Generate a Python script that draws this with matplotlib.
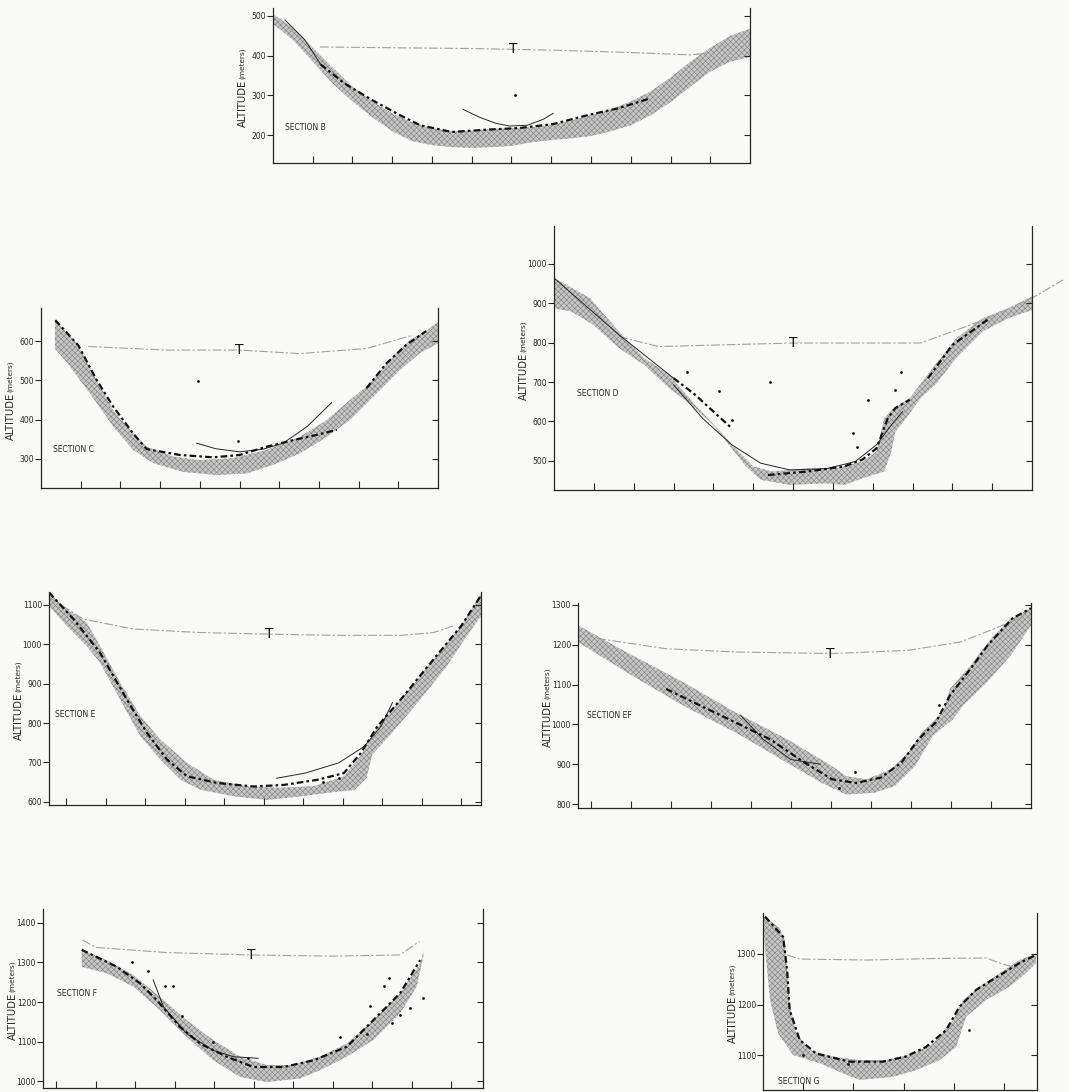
import numpy as np
import matplotlib.pyplot as plt

plt.rcParams['font.family'] = 'DejaVu Sans'
plt.rcParams['hatch.linewidth'] = 0.45

W, H = 1069, 1092

# ---- Section B ----
b_upper = [(0, 505), (0.5, 470), (1.0, 420), (1.5, 370), (2.0, 322), (2.5, 285), (3.0, 255), (3.5, 232),
           (4.0, 218), (4.5, 210), (5.0, 212), (5.5, 216), (6.0, 218), (6.5, 220), (7.0, 226), (7.5, 237),
           (8.0, 250), (8.5, 265), (9.0, 285), (9.5, 310), (10.0, 345), (10.5, 385), (11.0, 420),
           (11.5, 450), (12.0, 468)]
b_lower = [(0, 480), (0.5, 440), (1.0, 385), (1.5, 330), (2.0, 285), (2.5, 245), (3.0, 210), (3.5, 185),
           (4.0, 175), (4.5, 170), (5.0, 168), (5.5, 170), (6.0, 173), (6.5, 182), (7.0, 188), (7.5, 192),
           (8.0, 198), (8.5, 210), (9.0, 225), (9.5, 250), (10.0, 283), (10.5, 322), (11.0, 360),
           (11.5, 385), (12.0, 397)]
b_echo = [[(1.2, 378), (1.8, 330), (2.5, 288), (3.2, 250), (3.7, 225), (4.5, 208), (5.4, 214), (6.2, 218),
           (7.05, 228), (7.9, 250), (8.7, 268), (9.5, 293)]]
b_fit = [[(4.78, 265), (5.2, 245), (5.6, 230), (5.96, 223), (6.4, 225), (6.8, 240), (7.05, 255)],
         [(0.3, 490), (0.8, 440), (1.2, 378)]]
b_tline = [(1.18, 422), (3, 420), (5, 418), (7, 414), (9, 408), (10.5, 402), (11.0, 407)]
b_dots = [(6.1, 300)]

# ---- Section C ----
c_upper = [(0.35, 653), (0.9, 594), (1.4, 501), (1.82, 424), (2.32, 365), (2.66, 331), (3.33, 306),
           (4.0, 297), (4.84, 302), (5.68, 323), (6.52, 356), (7.2, 399), (7.78, 450), (8.2, 484),
           (8.8, 552), (9.3, 603), (9.72, 628), (10.0, 649)]
c_lower = [(0.35, 580), (0.65, 546), (1.23, 467), (1.82, 382), (2.32, 323), (2.83, 289), (3.58, 267),
           (4.42, 259), (5.18, 263), (5.85, 285), (6.52, 314), (7.2, 356), (7.78, 399), (8.37, 458),
           (9.04, 526), (9.54, 569), (10.0, 594)]
c_echo = [[(0.36, 653), (0.94, 589), (1.4, 501), (1.82, 433), (2.32, 365), (2.66, 325), (3.5, 310),
           (4.34, 304), (5.0, 310), (5.68, 331), (6.36, 348), (6.94, 361), (7.45, 374)],
          [(8.2, 480), (8.7, 543), (9.2, 590), (9.7, 625)]]
c_fit = [[(3.92, 340), (4.4, 326), (5.0, 318), (5.6, 325), (6.1, 340), (6.7, 382), (7.32, 443)]]
c_tline = [(1.19, 586), (3.16, 577), (5.0, 577), (6.52, 568), (8.2, 581), (9.37, 615)]
c_dots = [(3.95, 498), (4.95, 346)]

# ---- Section D ----
d_upper = [(0, 964), (0.9, 913), (1.63, 828), (2.26, 761), (2.9, 718), (3.54, 642), (4.09, 583),
           (4.55, 532), (5.0, 486), (5.46, 473), (6.37, 481), (7.1, 481), (7.74, 498), (8.1, 524),
           (8.29, 608), (8.47, 629), (8.93, 659), (9.57, 744), (10.1, 811), (10.76, 862), (11.4, 887),
           (12.0, 917)]
d_lower = [(0, 887), (0.44, 879), (0.99, 845), (1.63, 786), (2.26, 744), (2.9, 684), (3.45, 642),
           (4.0, 591), (4.46, 532), (4.82, 486), (5.19, 452), (5.92, 439), (6.83, 443), (7.3, 439),
           (7.74, 456), (8.29, 473), (8.47, 524), (8.57, 574), (8.84, 608), (9.2, 659), (9.57, 693),
           (10.1, 761), (10.76, 828), (11.4, 862), (12.0, 883)]
d_echo = [[(3.0, 710), (3.54, 668), (4.09, 617), (4.46, 583)],
          [(5.37, 464), (6.37, 473), (7.29, 486), (7.74, 503), (8.1, 532), (8.38, 608), (8.57, 634),
           (8.93, 655)],
          [(9.39, 710), (10.0, 794), (10.94, 862)]]
d_fit = [[(3.0, 693), (3.73, 608), (4.46, 541), (5.19, 494), (5.92, 477), (6.83, 480), (7.56, 498),
          (8.1, 541), (8.47, 591), (8.75, 625)],
         [(0, 964), (1.63, 820), (3.0, 710)]]
d_tline = [(1.63, 815), (2.63, 790), (4.09, 794), (6.0, 799), (9.2, 799), (10.0, 828), (10.9, 862),
           (12.0, 913), (12.78, 959)]
d_dots = [(3.34, 725), (4.14, 676), (5.42, 701), (4.46, 604), (7.5, 570), (7.6, 536), (7.88, 655),
          (8.57, 680), (8.7, 725)]

# ---- Section E ----
e_upper = [(0.57, 1130), (1.02, 1090), (1.52, 1056), (1.86, 996), (2.37, 903), (2.88, 818), (3.39, 758),
           (4.06, 699), (4.74, 656), (5.58, 639), (6.43, 636), (7.27, 640), (8.03, 665), (8.46, 718),
           (8.88, 788), (9.47, 860), (10.3, 962), (11.0, 1047), (11.5, 1128)]
e_lower = [(0.57, 1098), (1.02, 1047), (1.52, 996), (1.86, 954), (2.37, 860), (2.88, 767), (3.39, 707),
           (3.9, 656), (4.4, 631), (5.25, 614), (6.09, 605), (6.94, 614), (7.78, 625), (8.3, 630),
           (8.6, 660), (8.75, 720), (9.2, 770), (9.8, 840), (10.6, 940), (11.2, 1030), (11.5, 1072)]
e_echo = [[(0.57, 1132), (1.19, 1064), (1.86, 979), (2.54, 860), (3.05, 775), (3.56, 707), (4.06, 665),
           (4.82, 648), (5.75, 639), (6.51, 643), (7.36, 656), (8.03, 673), (8.46, 724), (8.88, 792),
           (9.47, 860), (10.3, 962), (11.0, 1047), (11.5, 1124)]]
e_fit = [[(6.33, 660), (7.05, 673), (7.9, 699), (8.55, 741), (8.97, 792), (9.26, 852)]]
e_tline = [(0.57, 1120), (1.44, 1064), (2.7, 1039), (4.4, 1030), (6.09, 1026), (7.78, 1023), (9.47, 1023),
           (10.3, 1030), (10.8, 1047)]
e_dots = [(7.5, 650), (7.9, 660)]

# ---- Section EF ----
ef_upper = [(0.675, 1249), (2.02, 1174), (3.31, 1106), (4.61, 1030), (5.9, 963), (7.03, 895), (7.38, 870),
            (7.89, 862), (8.5, 887), (8.93, 929), (9.28, 980), (9.8, 1030), (9.97, 1089), (10.49, 1148),
            (11.0, 1216), (11.5, 1266), (12.0, 1292)]
ef_lower = [(0.675, 1207), (2.02, 1123), (3.31, 1047), (4.61, 980), (5.9, 904), (6.77, 853), (7.38, 824),
            (8.07, 828), (8.59, 845), (9.1, 895), (9.54, 971), (10.05, 1013), (10.3, 1047), (10.9, 1106),
            (11.5, 1174), (12.0, 1249)]
ef_echo = [[(2.88, 1089), (3.74, 1047), (4.61, 1005), (5.47, 963), (6.34, 904), (7.03, 862), (7.63, 853),
            (8.24, 866), (8.76, 904), (9.19, 963), (9.62, 1005), (9.97, 1072), (10.49, 1140),
            (10.92, 1199), (11.53, 1266), (12.0, 1292)]]
ef_fit = [[(4.74, 1023), (5.3, 963), (5.99, 912), (6.73, 900)]]
ef_tline = [(1.15, 1216), (2.88, 1190), (4.61, 1182), (7.03, 1178), (8.93, 1186), (10.23, 1207),
            (11.1, 1241), (11.8, 1270)]
ef_dots = [(7.6, 880), (7.2, 840), (9.7, 1050)]

# ---- Section F ----
f_upper = [(1.65, 1332), (2.28, 1306), (2.96, 1268), (3.63, 1213), (4.31, 1154), (4.98, 1104), (5.66, 1062),
           (6.33, 1041), (7.0, 1041), (7.68, 1062), (8.36, 1095), (9.03, 1154), (9.71, 1222), (10.22, 1298),
           (10.3, 1327)]
f_lower = [(1.65, 1289), (2.28, 1273), (2.96, 1239), (3.63, 1180), (4.31, 1112), (4.98, 1053), (5.66, 1011),
           (6.33, 998), (7.17, 1007), (7.68, 1028), (8.36, 1062), (9.03, 1104), (9.71, 1171), (10.13, 1239),
           (10.3, 1315)]
f_echo = [[(1.65, 1332), (2.54, 1289), (3.13, 1247), (3.55, 1205), (4.14, 1137), (4.65, 1095), (5.32, 1062),
           (6.0, 1036), (6.76, 1036), (7.52, 1053), (8.36, 1087), (9.12, 1163), (9.71, 1222), (10.22, 1306)]]
f_fit = [[(3.46, 1256), (3.72, 1188), (4.31, 1120), (4.98, 1078), (5.49, 1062), (6.12, 1058)]]
f_tline = [(1.67, 1357), (2.0, 1338), (3.8, 1325), (5.9, 1319), (8.0, 1316), (9.7, 1319), (10.2, 1353)]
f_dots = [(2.93, 1300), (3.33, 1279), (3.75, 1240), (3.95, 1240), (4.2, 1165), (4.98, 1100), (5.87, 1058),
          (8.2, 1112), (8.96, 1190), (9.3, 1240), (9.43, 1262), (9.5, 1146), (9.71, 1167), (9.96, 1184),
          (10.3, 1210), (8.87, 1120)]

# ---- Section G ----
g_upper = [(0.27, 1371), (0.53, 1351), (0.63, 1328), (0.68, 1268), (0.73, 1202), (0.86, 1143), (1.12, 1110),
           (1.59, 1097), (2.12, 1090), (2.65, 1090), (3.18, 1103), (3.58, 1123), (3.98, 1169), (4.18, 1209),
           (4.51, 1235), (4.91, 1262), (5.3, 1288), (5.63, 1301)]
g_lower = [(0.2, 1374), (0.24, 1314), (0.34, 1209), (0.5, 1143), (0.8, 1100), (1.33, 1084), (1.79, 1064),
           (2.12, 1051), (2.78, 1057), (3.24, 1070), (3.71, 1090), (4.04, 1116), (4.24, 1176), (4.64, 1209),
           (5.1, 1235), (5.43, 1262), (5.63, 1282)]
g_echo = [[(0.24, 1374), (0.6, 1334), (0.68, 1268), (0.73, 1189), (0.93, 1130), (1.26, 1103), (1.92, 1087),
           (2.58, 1087), (3.04, 1097), (3.44, 1116), (3.84, 1149), (4.11, 1196), (4.44, 1229), (4.91, 1258),
           (5.3, 1282), (5.63, 1298)]]
g_fit = []
g_tline = [(0.68, 1298), (0.93, 1290), (2.26, 1288), (3.58, 1291), (4.64, 1292), (4.91, 1282), (5.24, 1272)]
g_dots = [(1.0, 1100), (1.9, 1082), (4.3, 1150)]


def xs(pts):
    return [p[0] for p in pts]


def ys(pts):
    return [p[1] for p in pts]


fig = plt.figure(figsize=(W / 100, H / 100), dpi=100)
fig.patch.set_facecolor('#f9faf7')
ink = '#262626'


def panel(l, t, r, b, xlim, ylim, xticks, yticks, upper, lower, echo, fits, tline, t_x, dots, name, name_at):
    ax = fig.add_axes([l / W, 1 - b / H, (r - l) / W, (b - t) / H])
    ax.set_facecolor('none')
    band = upper + lower[::-1]
    ax.fill(xs(band), ys(band), facecolor='#c6c6c6', edgecolor='#858585', hatch='xxxxxx', linewidth=0)
    ax.plot(xs(tline), ys(tline), color='#a0a0a0', lw=0.8, dashes=(8, 2, 2, 2), clip_on=False)
    if t_x is not None:
        ty = np.interp(t_x, xs(tline), ys(tline))
        ax.text(t_x, ty, 'T', ha='center', va='center', fontsize=10, color='#111111')
    for seg in fits:
        ax.plot(xs(seg), ys(seg), color=ink, lw=0.7)
    for seg in echo:
        ax.plot(xs(seg), ys(seg), color='#111111', lw=1.6, dashes=(3, 1.4, 1.2, 1.4))
    if dots:
        ax.scatter(xs(dots), ys(dots), s=4, color='#111111', lw=0)
    ax.text(name_at[0], name_at[1], name, fontsize=5.5, color=ink, va='center')

    ax.set_xlim(xlim)
    ax.set_ylim(ylim)
    ax.set_xticks(xticks)
    ax.set_yticks(yticks)
    ax.set_xticklabels([])
    ax.set_yticklabels([str(v) for v in yticks], fontsize=5.5, color=ink)
    ax.tick_params(axis='x', direction='in', length=5, width=0.8, color=ink)
    ax.tick_params(axis='y', direction='out', length=4, width=0.8, color=ink, pad=1)
    ax.spines['top'].set_visible(False)
    for s in ['left', 'right', 'bottom']:
        ax.spines[s].set_color(ink)
        ax.spines[s].set_linewidth(0.9)

    # y label: large ALTITUDE, small (meters)
    ax.annotate('ALTITUDE', xy=(0, 0.5), xycoords='axes fraction', xytext=(-22, -13),
                textcoords='offset points', rotation=90, ha='center', va='center',
                fontsize=7.2, color=ink)
    ax.annotate('(meters)', xy=(0, 0.5), xycoords='axes fraction', xytext=(-22, 16),
                textcoords='offset points', rotation=90, ha='center', va='center',
                fontsize=5.3, color=ink)

    ax2 = ax.twinx()
    for s in ax2.spines.values():
        s.set_visible(False)
    ax2.set_ylim(ylim)
    ax2.set_yticks(yticks)
    ax2.tick_params(axis='y', direction='in', length=4, width=0.8, color=ink, labelright=False)
    return ax


panel(273, 8, 750, 163, (0, 12), (130, 520), range(1, 12), [200, 300, 400, 500],
      b_upper, b_lower, b_echo, b_fit, b_tline, 6.04, b_dots, 'SECTION B', (0.3, 220))
panel(41, 308, 438, 488, (0, 10), (226, 684), range(1, 10), [300, 400, 500, 600],
      c_upper, c_lower, c_echo, c_fit, c_tline, 5.0, c_dots, 'SECTION C', (0.3, 323))
panel(554, 226, 1032, 490, (0, 12), (426, 1096), range(1, 12), [500, 600, 700, 800, 900, 1000],
      d_upper, d_lower, d_echo, d_fit, d_tline, 6.0, d_dots, 'SECTION D', (0.58, 670))
panel(49, 592, 481, 805, (0.57, 11.5), (592, 1133), range(1, 12), [600, 700, 800, 900, 1000, 1100],
      e_upper, e_lower, e_echo, e_fit, e_tline, 6.13, e_dots, 'SECTION E', (0.72, 822))
panel(578, 603, 1031, 808, (0.675, 12), (790, 1305), range(1, 12), [800, 900, 1000, 1100, 1200, 1300],
      ef_upper, ef_lower, ef_echo, ef_fit, ef_tline, 6.99, ef_dots, 'SECTION EF', (0.89, 1023))
panel(43, 909, 483, 1088, (0.67, 11.81), (983, 1435), range(1, 12), [1000, 1100, 1200, 1300, 1400],
      f_upper, f_lower, f_echo, f_fit, f_tline, 5.94, f_dots, 'SECTION F', (1.02, 1222))
panel(763, 913, 1037, 1090, (0.2, 5.65), (1031, 1381), range(1, 6), [1100, 1200, 1300],
      g_upper, g_lower, g_echo, g_fit, g_tline, None, g_dots, 'SECTION G', (0.5, 1047))

fig.savefig('out.png', dpi=100, facecolor=fig.get_facecolor())
